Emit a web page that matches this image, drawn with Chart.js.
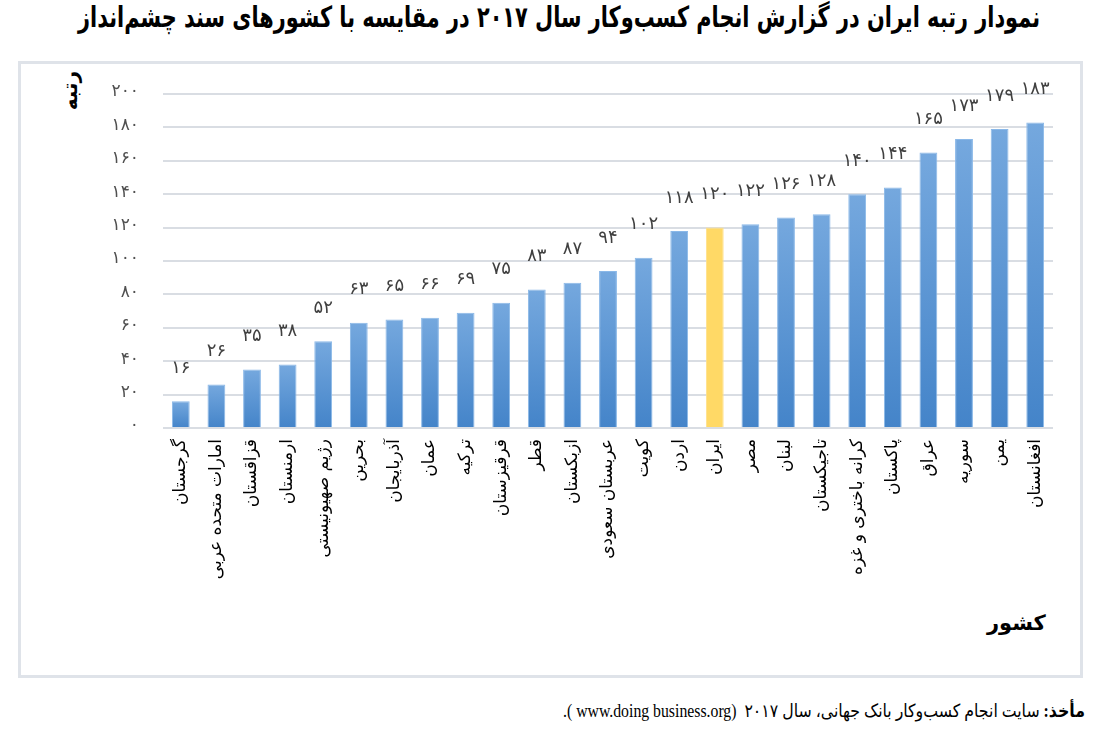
<!DOCTYPE html>
<html lang="fa">
<head>
<meta charset="utf-8">
<script src="https://cdn.jsdelivr.net/npm/chart.js@4.4.1/dist/chart.umd.min.js"></script>
<style>
  html, body { margin: 0; padding: 0; background: #fff; width: 1101px; height: 741px; overflow: hidden; }
  #box { position: absolute; left: 18px; top: 61px; width: 1059px; height: 611px; border: 3px solid #dfe3e9; }
  #title { position: absolute; top: 0px; left: 78px; direction: rtl; transform-origin: 0 0;
           font-family: "DejaVu Sans", sans-serif; font-weight: bold; font-size: 29px; color: #000; white-space: nowrap; }
  #ytitle { position: absolute; left: 58px; top: 69px; width: 34px; height: 26px; font-family: "DejaVu Sans", sans-serif;
            font-weight: bold; font-size: 20px; direction: rtl; white-space: nowrap;
            transform-origin: 0 0; transform: translate(0px, 36px) rotate(-90deg); }
  #xtitle { position: absolute; left: 987px; top: 611px; font-family: "DejaVu Sans", sans-serif; font-weight: bold;
            font-size: 21px; direction: rtl; white-space: nowrap; }
  #source { position: absolute; top: 700px; left: 563px; direction: rtl; white-space: nowrap; transform-origin: 0 0;
            font-family: "Liberation Serif", "DejaVu Sans", serif; font-size: 18px; color: #000; }
  #c { position: absolute; left: 0; top: 0; }
</style>
</head>
<body>
<div id="box"></div>
<div id="title">نمودار رتبه ایران در گزارش انجام کسب‌وکار سال ۲۰۱۷ در مقایسه با کشورهای سند چشم‌انداز</div>
<div id="ytitle">رتبه</div>
<div id="xtitle">کشور</div>
<div id="source"><b>مأخذ:</b> سایت انجام کسب‌وکار بانک جهانی، سال ۲۰۱۷&nbsp;&nbsp;<bdi dir="ltr">.( www.doing business.org)</bdi></div>
<canvas id="c" width="1101" height="741"></canvas>
<script>
const categories = ["گرجستان", "امارات متحده عربی", "قزاقستان", "ارمنستان", "رژیم صهیونیستی", "بحرین", "آذربایجان", "عمان", "ترکیه", "قرقیزستان", "قطر", "ازبکستان", "عربستان سعودی", "کویت", "اردن", "ایران", "مصر", "لبنان", "تاجیکستان", "کرانه باختری و غزه", "پاکستان", "عراق", "سوریه", "یمن", "افغانستان"];
const ranks = [16, 26, 35, 38, 52, 63, 65, 66, 69, 75, 83, 87, 94, 102, 118, 120, 122, 126, 128, 140, 144, 165, 173, 179, 183];
const highlight = "ایران";
const yMin = 0, yMax = 200, yStep = 20;

const faDigits = "۰۱۲۳۴۵۶۷۸۹";
function toFa(n) { return String(n).replace(/[0-9]/g, d => faDigits[d]); }

function fitWidth(id, target) {
  const el = document.getElementById(id);
  const w = el.getBoundingClientRect().width;
  el.style.transform = 'scaleX(' + (target / w) + ')';
}
fitWidth('title', 962);
fitWidth('source', 522);

const valueLabels = {
  id: 'valueLabels',
  afterDatasetsDraw(chart) {
    const ctx = chart.ctx;
    const meta = chart.getDatasetMeta(0);
    ctx.save();
    ctx.font = '18px "DejaVu Sans", sans-serif';
    ctx.fillStyle = '#404040';
    ctx.textAlign = 'center';
    ctx.textBaseline = 'middle';
    meta.data.forEach((bar, i) => {
      ctx.fillText(toFa(ranks[i]), bar.x, bar.y - 33);
    });
    ctx.restore();
  }
};

function barColor(context) {
  const i = context.dataIndex;
  if (categories[i] === highlight) return '#ffd966';
  const chart = context.chart;
  const ys = chart.scales && chart.scales.y;
  if (!chart.chartArea || !ys) return '#5b9bd5';
  const top = ys.getPixelForValue(ranks[i]);
  const bottom = ys.getPixelForValue(0);
  if (!isFinite(top) || !isFinite(bottom) || bottom - top < 1) return '#5b9bd5';
  const g = chart.ctx.createLinearGradient(0, top, 0, bottom);
  g.addColorStop(0, '#75a8de');
  g.addColorStop(1, '#4484c9');
  return g;
}

new Chart(document.getElementById('c'), {
  type: 'bar',
  data: {
    labels: categories,
    datasets: [{
      data: ranks,
      backgroundColor: barColor,
      borderColor: ctx => categories[ctx.dataIndex] === highlight ? '#ffe08a' : '#8ab8e8',
      borderWidth: 1,
      barPercentage: 0.5,
      categoryPercentage: 1.0
    }]
  },
  options: {
    responsive: false,
    animation: false,
    devicePixelRatio: 1,
    layout: { padding: { left: 0, right: 48, top: 94, bottom: 0 } },
    plugins: { legend: { display: false }, tooltip: { enabled: false }, title: { display: false } },
    scales: {
      x: {
        grid: { display: false, drawTicks: false },
        border: { display: false },
        ticks: {
          minRotation: 90, maxRotation: 90, autoSkip: false, padding: 11,
          color: '#000',
          font: { family: '"DejaVu Sans", sans-serif', size: 17 }
        },
        afterFit(scale) { scale.height = 313; }
      },
      y: {
        min: yMin, max: yMax,
        grid: { color: '#d9dde3', lineWidth: 2, drawTicks: false },
        border: { display: false },
        ticks: {
          stepSize: yStep, padding: 24, color: '#505050', labelOffset: -2,
          font: { family: '"DejaVu Sans", sans-serif', size: 17 },
          callback: v => toFa(v)
        },
        afterFit(scale) { scale.width = 163; }
      }
    }
  },
  plugins: [valueLabels]
});
</script>
</body>
</html>
